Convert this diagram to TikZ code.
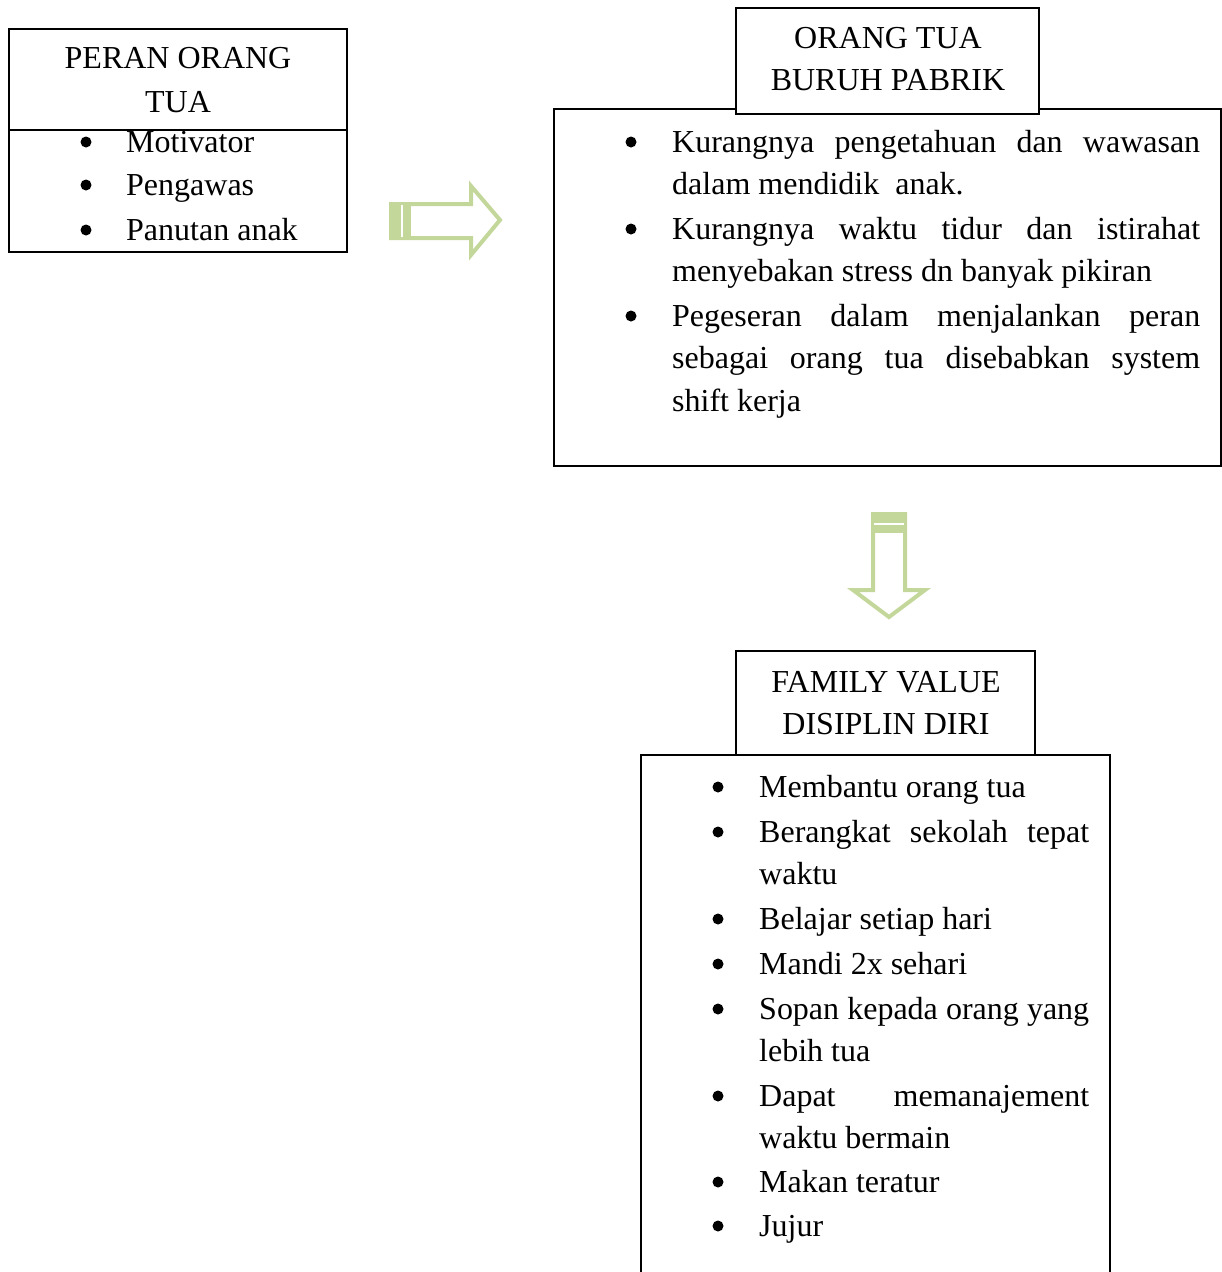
\documentclass[tikz,border=0pt]{standalone}
\usepackage{fontspec}
\setmainfont{Liberation Serif}
\definecolor{arrowgreen}{HTML}{C4D79B}
\begin{document}
\begin{tikzpicture}[x=1pt,y=-1pt,
  box/.style={draw=black,line width=1.3pt,fill=white},
  txt/.style={anchor=base west,inner sep=0pt,font=\fontsize{32}{42}\selectfont},
  ctxt/.style={anchor=base,inner sep=0pt,font=\fontsize{32}{42}\selectfont},
  blt/.style={fill=black},
  garrow/.style={draw=arrowgreen,line width=4pt,fill=white,line join=miter}]
\useasboundingbox (0,0) rectangle (1222,1272);
% ---------- Box 1
\draw[box] (9,29) rectangle (347,130);
\draw[box] (9,130) rectangle (347,252);
\node[ctxt] (t1a) at (178,68) {PERAN ORANG};
\node[ctxt] (t1b) at (178,112) {TUA};
\foreach \y/\t [count=\i] in {152/Motivator,195/Pengawas,240/Panutan anak}{
  \fill[blt] (86,\y-10) circle (5.5pt);
  \node[txt] (l1-\i) at (126,\y) {\t};
}
% ---------- Box 2
\draw[box] (554,109) rectangle (1221,466);
\draw[box] (736,8) rectangle (1039,114);
\node[ctxt] (t2a) at (888,48) {ORANG TUA};
\node[ctxt] (t2b) at (888,90) {BURUH PABRIK};
\foreach \y in {152,239,326}{\fill[blt] (631,\y-10) circle (5.5pt);}
\node[txt] (l2-1) at (672,152) {\makebox[528pt][s]{Kurangnya pengetahuan dan wawasan}};
\node[txt] (l2-2) at (672,194) {dalam mendidik\ \ anak.};
\node[txt] (l2-3) at (672,239) {\makebox[528pt][s]{Kurangnya waktu tidur dan istirahat}};
\node[txt] (l2-4) at (672,281) {menyebakan stress dn banyak pikiran};
\node[txt] (l2-5) at (672,326) {\makebox[528pt][s]{Pegeseran dalam menjalankan peran}};
\node[txt] (l2-6) at (672,368) {\makebox[528pt][s]{sebagai orang tua disebabkan system}};
\node[txt] (l2-7) at (672,411) {shift kerja};
% ---------- Box 3
\draw[box] (641,1300) -- (641,755) -- (1110,755) -- (1110,1300);
\draw[box] (736,651) rectangle (1035,755);
\node[ctxt] (t3a) at (886,692) {FAMILY VALUE};
\node[ctxt] (t3b) at (886,734) {DISIPLIN DIRI};
\foreach \y in {797,842,929,974,1019,1106,1192,1236}{\fill[blt] (718,\y-10) circle (5.5pt);}
\node[txt] (l3-1) at (759,797) {Membantu orang tua};
\node[txt] (l3-2) at (759,842) {\makebox[330pt][s]{Berangkat sekolah tepat}};
\node[txt] (l3-3) at (759,884) {waktu};
\node[txt] (l3-4) at (759,929) {Belajar setiap hari};
\node[txt] (l3-5) at (759,974) {Mandi 2x sehari};
\node[txt] (l3-6) at (759,1019) {\makebox[330pt][s]{Sopan kepada orang yang}};
\node[txt] (l3-7) at (759,1061) {lebih tua};
\node[txt] (l3-8) at (759,1106) {\makebox[330pt][s]{Dapat memanajement}};
\node[txt] (l3-9) at (759,1148) {waktu bermain};
\node[txt] (l3-10) at (759,1192) {Makan teratur};
\node[txt] (l3-11) at (759,1236) {Jujur};
% ---------- Right arrow
\draw[garrow] (391,204) -- (471,204) -- (471,186) -- (500,220) -- (471,255) -- (471,238) -- (391,238) -- cycle;
\fill[arrowgreen] (389,202) rectangle (411,240);
\draw[white,line width=2pt] (402,205) -- (402,237);
% ---------- Down arrow
\draw[garrow] (873,514) -- (905,514) -- (905,590) -- (925,590) -- (889,617) -- (853,590) -- (873,590) -- cycle;
\fill[arrowgreen] (871,512) rectangle (907,533);
\draw[white,line width=2pt] (874,524) -- (904,524);
\end{tikzpicture}
\end{document}
